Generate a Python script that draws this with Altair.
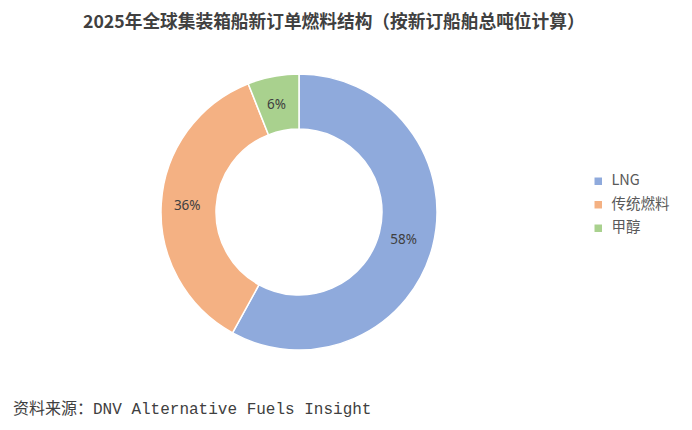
import altair as alt
import pandas as pd

categories = ["LNG", "传统燃料", "甲醇"]
shares = [58, 36, 6]
labels = ["58%", "36%", "6%"]
colors = ["#8FAADC", "#F4B183", "#A9D18E"]

title_text = "2025年全球集装箱船新订单燃料结构（按新订船舶总吨位计算）"
source_text = "资料来源：DNV Alternative Fuels Insight"

df = pd.DataFrame({"燃料": categories, "占比": shares, "标签": labels, "序": list(range(len(categories)))})

CX, CY = 291, 204
R_OUT, R_IN = 138, 83

base = alt.Chart(df).encode(
    theta=alt.Theta("占比:Q", stack=True),
    order=alt.Order("序:O"),
)

arcs = base.mark_arc(outerRadius=R_OUT, innerRadius=R_IN, stroke="white", strokeWidth=1.5).encode(
    x=alt.value(CX), y=alt.value(CY),
    color=alt.Color(
        "燃料:N",
        scale=alt.Scale(domain=categories, range=colors),
        legend=alt.Legend(
            title=None, orient="none", legendX=583, legendY=166,
            symbolType="square", symbolSize=56, symbolStrokeWidth=0,
            labelFontSize=14.5, labelColor="#595959", labelFont="Noto Sans CJK SC",
            rowPadding=8.5, labelOffset=6,
        ),
    ),
)

texts = base.mark_text(radius=110, fontSize=13.5, color="#404040", font="Noto Sans").encode(
    x=alt.value(CX - 2), y=alt.value(CY + 1), text="标签:N"
)

title = alt.Chart(alt.Data(values=[{"t": title_text}])).mark_text(
    align="left", baseline="middle", fontSize=17.7, fontWeight="bold",
    font="Noto Sans CJK SC", color="#404040",
).encode(x=alt.value(75), y=alt.value(15), text="t:N")

source = alt.Chart(alt.Data(values=[{"t": source_text}])).mark_text(
    align="left", baseline="middle", fontSize=16,
    font="Liberation Mono, Noto Sans CJK SC", color="#404040",
).encode(x=alt.value(5), y=alt.value(401), text="t:N")

chart = alt.layer(arcs, texts, title, source).properties(
    width=676, height=414, autosize=alt.AutoSizeParams(type="none"), padding=0,
).configure(background="white", view=alt.ViewConfig(stroke=None))

chart.save("out.html", embed_options={"renderer": "svg", "actions": False})
